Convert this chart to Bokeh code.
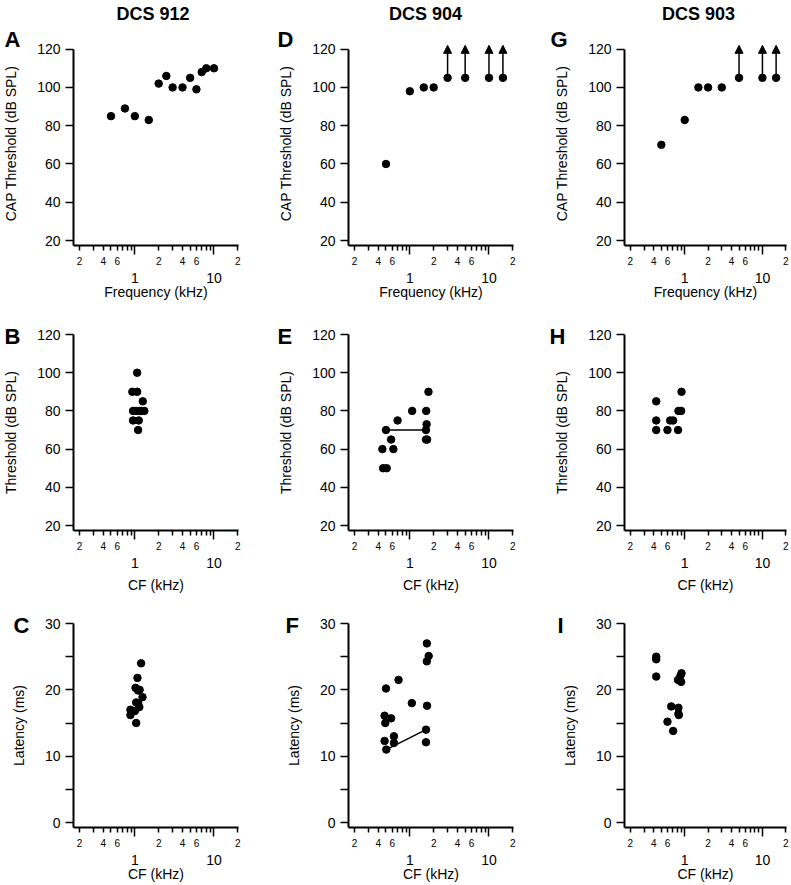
import math
from bokeh.plotting import figure
from bokeh.layouts import row, column
from bokeh.models import (Range1d, FixedTicker, ColumnDataSource, Arrow,
                          NormalHead, LogAxis, Title)
from bokeh.embed import file_html
from bokeh.resources import INLINE

FONT = "Liberation Sans"

# ---------------- data ----------------
titles = ["DCS 912", "DCS 904", "DCS 903"]
letters = [["A", "B", "C"], ["D", "E", "F"], ["G", "H", "I"]]

# Row 1: CAP threshold vs frequency
a_freq = [0.5, 0.75, 1, 1.5, 2, 2.5, 3, 4, 5, 6, 7, 8, 10]
a_thr = [85, 89, 85, 83, 102, 106, 100, 100, 105, 99, 108, 110, 110]

d_freq = [0.5, 1, 1.5, 2, 3, 5, 10, 15]
d_thr = [60, 98, 100, 100, 105, 105, 105, 105]
d_arrow_freq = [3, 5, 10, 15]
d_arrow_base = [105, 105, 105, 105]

g_freq = [0.5, 1, 1.5, 2, 3, 5, 10, 15]
g_thr = [70, 83, 100, 100, 100, 105, 105, 105]
g_arrow_freq = [5, 10, 15]
g_arrow_base = [105, 105, 105]

arrow_tip = 122

# Row 2: unit threshold vs CF
b_cf = [1.07, 0.93, 1.07, 1.26, 0.95, 1.04, 1.15, 1.22, 1.32, 0.95, 1.12, 1.1]
b_thr = [100, 90, 90, 85, 80, 80, 80, 80, 80, 75, 75, 70]

e_cf = [0.46, 0.51, 0.45, 0.5, 0.58, 0.62, 0.70, 1.07, 1.61, 1.63, 1.6, 1.6, 1.65, 1.72]
e_thr = [50, 50, 60, 70, 65, 60, 75, 80, 80, 73, 70, 65, 65, 90]
e_line_cf = [0.5, 1.6]
e_line_thr = [70, 70]

h_cf = [0.43, 0.43, 0.43, 0.6, 0.65, 0.71, 0.82, 0.83, 0.90, 0.91]
h_thr = [85, 75, 70, 70, 75, 75, 70, 80, 80, 90]

# Row 3: latency vs CF
c_cf = [1.2, 1.08, 1.02, 1.1, 1.15, 1.25, 1.04, 1.1, 1.14, 0.88, 1.0, 0.88, 1.04]
c_lat = [24.0, 21.8, 20.3, 19.9, 20.0, 18.9, 18.1, 18.0, 17.4, 17.0, 16.8, 16.2, 15.0]

f_cf = [0.5, 0.48, 0.49, 0.48, 0.505, 0.58, 0.63, 0.63, 0.72, 1.06, 1.64, 1.73, 1.64, 1.65, 1.6, 1.6]
f_lat = [20.2, 16.1, 15.0, 12.3, 11.0, 15.7, 13.0, 12.0, 21.5, 18.0, 27.0, 25.1, 24.3, 17.6, 14.0, 12.1]
f_line_cf = [0.505, 1.6]
f_line_lat = [11, 14]

i_cf = [0.43, 0.43, 0.43, 0.67, 0.60, 0.71, 0.83, 0.83, 0.84, 0.91, 0.88, 0.82, 0.9]
i_lat = [25.0, 24.6, 22.0, 17.5, 15.2, 13.8, 17.3, 16.4, 16.2, 22.5, 22.1, 21.5, 21.2]

# Axes: ticks and labels
x_range_lim = [0.168, 20.4]
x_decade_ticks = [1, 10]
x_decade_labels = ["1", "10"]
x_small_ticks = [0.2, 0.3, 0.4, 0.5, 0.6, 0.7, 0.8, 0.9,
                 2, 3, 4, 5, 6, 7, 8, 9, 20]
x_small_labels = ["2", "", "4", "", "6", "", "", "",
                  "2", "", "4", "", "6", "", "", "", "2"]

thr_range = [17.4, 120]
thr_top_row1 = 124           # room above 120 for the arrows of panels D and G
thr_ticks = [20, 40, 60, 80, 100, 120]
thr_labels = ["20", "40", "60", "80", "100", "120"]
lat_range = [-0.75, 30]
lat_ticks = [0, 5, 10, 15, 20, 25, 30]
lat_labels = ["0", "", "10", "", "20", "", "30"]

x_titles = ["Frequency (kHz)", "CF (kHz)", "CF (kHz)"]
y_titles = ["CAP Threshold (dB SPL)", "Threshold (dB SPL)", "Latency (ms)"]

# ---------------- geometry (page px) ----------------
col_edges = [0, 266, 540, 790]
row_edges = [0, 302, 595, 884]
frame_left = [[72, 72, 63], [348, 348, 340], [623, 624, 616]]
frame_right = [238, 513, 786]
tick_top = [49, 334, 623]          # pixel row of the top tick (120 / 30)
frame_bottom = [246, 531, 829]
letter_x = [3, 277, 549]
letter_standoff = [-21.4, -29.5, -29]
xlabel_standoff = [-2, 6, -2]
title_cx = [152, 425, 697.5]
title_standoff = 12


def make_panel(ci, ri):
    fl, fr = frame_left[ci][ri], frame_right[ci]
    fb = frame_bottom[ri]
    ylo, yhi = (lat_range if ri == 2 else thr_range)
    ytop = thr_top_row1 if ri == 0 else yhi
    ppu = (fb - tick_top[ri]) / (yhi - ylo)
    ft = tick_top[ri] - (ytop - yhi) * ppu
    W = col_edges[ci + 1] - col_edges[ci]
    H = row_edges[ri + 1] - row_edges[ri]
    p = figure(width=W, height=H, x_axis_type="log",
               x_range=Range1d(*x_range_lim), y_range=Range1d(ylo, ytop),
               output_backend="svg", toolbar_location=None, title=None,
               min_border_left=round(fl - col_edges[ci]),
               min_border_right=round(col_edges[ci + 1] - fr),
               min_border_top=round(ft - row_edges[ri]),
               min_border_bottom=round(row_edges[ri + 1] - fb))
    p.outline_line_color = None
    p.grid.visible = False
    p.background_fill_color = "white"
    p.border_fill_color = "white"

    # x axis 1: all ticks, small digit labels
    xa = p.xaxis[0]
    xa.ticker = FixedTicker(ticks=x_small_ticks, minor_ticks=x_decade_ticks)
    xa.major_label_overrides = dict(zip(x_small_ticks, x_small_labels))
    xa.axis_line_width = 2
    xa.major_tick_line_width = 1.5
    xa.minor_tick_line_width = 1.5
    xa.major_tick_in = 0
    xa.minor_tick_in = 0
    xa.major_tick_out = 5
    xa.minor_tick_out = 9
    xa.major_label_standoff = 2
    xa.major_label_text_font = FONT
    xa.major_label_text_font_size = "10px"
    xa.major_label_text_color = "black"

    # x axis 2: decade labels and axis title
    xb = LogAxis(ticker=FixedTicker(ticks=x_decade_ticks))
    xb.major_label_overrides = dict(zip(x_decade_ticks, x_decade_labels))
    xb.axis_line_color = None
    xb.major_tick_line_color = None
    xb.minor_tick_line_color = None
    xb.major_tick_out = 0
    xb.major_tick_in = 0
    xb.minor_tick_out = 0
    xb.major_label_standoff = 5
    xb.major_label_text_font = FONT
    xb.major_label_text_font_size = "14px"
    xb.major_label_text_color = "black"
    xb.axis_label = x_titles[ri]
    xb.axis_label_text_font = FONT
    xb.axis_label_text_font_size = "14px"
    xb.axis_label_text_font_style = "normal"
    xb.axis_label_text_color = "black"
    xb.axis_label_standoff = xlabel_standoff[ri]
    p.add_layout(xb, "below")

    ya = p.yaxis[0]
    if ri == 2:
        ya.ticker = FixedTicker(ticks=lat_ticks)
        ya.major_label_overrides = dict(zip(lat_ticks, lat_labels))
    else:
        ya.ticker = FixedTicker(ticks=thr_ticks)
        ya.major_label_overrides = dict(zip(thr_ticks, thr_labels))
    ya.bounds = (ylo, yhi)
    ya.axis_line_width = 2
    ya.major_tick_line_width = 1.5
    ya.major_tick_in = 0
    ya.major_tick_out = 8
    ya.minor_tick_line_color = None
    ya.major_label_standoff = 5
    ya.major_label_text_font = FONT
    ya.major_label_text_font_size = "14px"
    ya.major_label_text_color = "black"
    ya.axis_label = y_titles[ri]
    ya.axis_label_text_font = FONT
    ya.axis_label_text_font_size = "14px"
    ya.axis_label_text_font_style = "normal"
    ya.axis_label_text_color = "black"
    ya.axis_label_standoff = 15

    # panel letter (closest to the frame)
    p.add_layout(Title(text=letters[ci][ri], align="left",
                       offset=letter_x[ci] - fl, standoff=letter_standoff[ri],
                       vertical_align="bottom",
                       text_font=FONT, text_font_size="22px",
                       text_font_style="bold", text_color="black"), "above")
    if ri == 0:
        # column title as a single labelled tick on an axis above the panel
        lx0, lx1 = math.log10(x_range_lim[0]), math.log10(x_range_lim[1])
        tx = 10 ** (lx0 + (title_cx[ci] - fl) / (fr - fl) * (lx1 - lx0))
        ta = LogAxis(ticker=FixedTicker(ticks=[tx]))
        ta.major_label_overrides = {tx: titles[ci]}
        ta.axis_line_color = None
        ta.major_tick_line_color = None
        ta.minor_tick_line_color = None
        ta.major_tick_out = 0
        ta.major_tick_in = 0
        ta.minor_tick_out = 0
        ta.major_label_standoff = title_standoff
        ta.major_label_text_font = FONT
        ta.major_label_text_font_size = "18px"
        ta.major_label_text_font_style = "bold"
        ta.major_label_text_color = "black"
        p.add_layout(ta, "above")
    return p


def dots(p, x, y):
    p.scatter(x, y, size=7.5, fill_color="black", line_color="black")


def arrows(p, xs, base):
    src = ColumnDataSource(dict(x0=xs, y0=base, x1=xs, y1=[arrow_tip] * len(xs)))
    p.add_layout(Arrow(x_start="x0", y_start="y0", x_end="x1", y_end="y1",
                       source=src, line_width=1.5, line_color="black",
                       end=NormalHead(size=8, fill_color="black",
                                      line_color="black", line_width=1)))


panels = [[make_panel(c, r) for r in range(3)] for c in range(3)]

pA, pB, pC = panels[0]
pD, pE, pF = panels[1]
pG, pH, pI = panels[2]

dots(pA, a_freq, a_thr)
arrows(pD, d_arrow_freq, d_arrow_base)
dots(pD, d_freq, d_thr)
arrows(pG, g_arrow_freq, g_arrow_base)
dots(pG, g_freq, g_thr)

dots(pB, b_cf, b_thr)
pE.line(e_line_cf, e_line_thr, line_width=1.5, line_color="black")
dots(pE, e_cf, e_thr)
dots(pH, h_cf, h_thr)

dots(pC, c_cf, c_lat)
pF.line(f_line_cf, f_line_lat, line_width=1.5, line_color="black")
dots(pF, f_cf, f_lat)
dots(pI, i_cf, i_lat)

layout = row([column(panels[c], spacing=0) for c in range(3)], spacing=0)

with open("out.html", "w") as fh:
    fh.write(file_html(layout, INLINE))
